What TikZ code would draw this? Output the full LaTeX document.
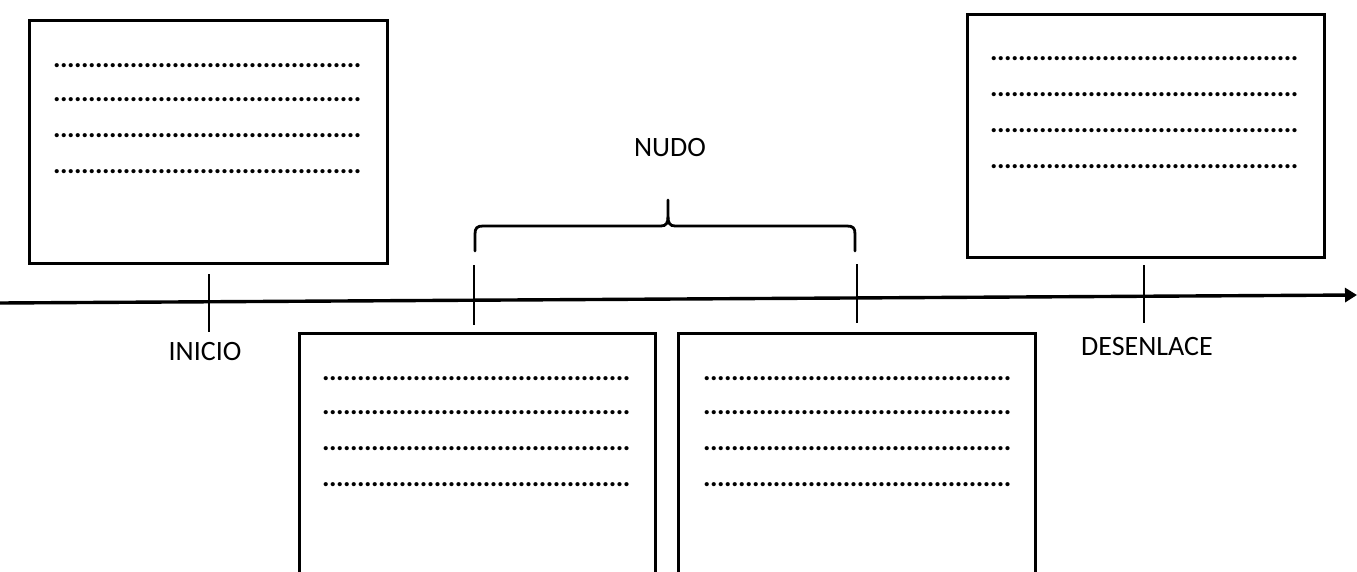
\documentclass[tikz,border=0pt]{standalone}
\usepackage{fontspec}
\setmainfont{Carlito}
\usetikzlibrary{arrows.meta}
\newcommand{\dotrow}{\hbox to 308pt{\xleaders\hbox to 6.85pt{\hss\textbf{.}\hss}\hfill}}
\tikzset{
  panel/.style={draw, line width=3pt, inner sep=0pt, anchor=north west},
  dots/.style={anchor=base west, inner sep=0pt, font=\fontsize{28pt}{30pt}\selectfont},
  lbl/.style={inner sep=0pt, font=\fontsize{28pt}{30pt}\selectfont},
  tick/.style={line width=2.4pt},
  axis/.style={line width=3.4pt, -{Triangle[length=12pt,width=14pt]}},
  bracepath/.style={line width=2.8pt, line cap=round}
}
\begin{document}
\begin{tikzpicture}[x=1pt,y=-1pt]
\useasboundingbox (0,0) rectangle (1357,572);
\clip (0,0) rectangle (1357,572);
% panels
\node[panel, minimum width=358pt, minimum height=243pt] (p1) at (28,19) {};
\node[panel, minimum width=357pt, minimum height=243pt] (p2) at (966,13) {};
\node[panel, minimum width=356pt, minimum height=300pt] (p3) at (298,332) {};
\node[panel, minimum width=357pt, minimum height=300pt] (p4) at (677,332) {};
% dotted rows
\foreach \i/\y in {1/67.5,2/101.5,3/137.5,4/173.5}{
  \node[dots] (p1r\i) at (53,\y) {\dotrow};
}
\foreach \i/\y in {1/60.5,2/96.5,3/132.5,4/168.5}{
  \node[dots] (p2r\i) at (990,\y) {\dotrow};
}
\foreach \i/\y in {1/380.5,2/414.5,3/450.5,4/486.5}{
  \node[dots] (p3r\i) at (322,\y) {\dotrow};
  \node[dots] (p4r\i) at (703,\y) {\dotrow};
}
% axis
\coordinate (a0) at (0,303);
\coordinate (a1) at (1357,295);
\draw[axis] (a0) -- (a1);
% ticks
\coordinate (t1a) at (209,274); \coordinate (t1b) at (209,332);
\coordinate (t2a) at (474,265); \coordinate (t2b) at (474,325);
\coordinate (t3a) at (857,264); \coordinate (t3b) at (857,323);
\coordinate (t4a) at (1144,265); \coordinate (t4b) at (1144,323);
\draw[tick] (t1a) -- (t1b);
\draw[tick] (t2a) -- (t2b);
\draw[tick] (t3a) -- (t3b);
\draw[tick] (t4a) -- (t4b);
% brace
\coordinate (bl) at (475,251);
\coordinate (br) at (855,251);
\coordinate (bt) at (668,200);
\draw[bracepath] (bl) -- (475,234) .. controls (475,228) and (477,226) .. (483,226)
  -- (661,226) .. controls (666,226) and (668,223) .. (668,217) -- (bt);
\draw[bracepath] (br) -- (855,234) .. controls (855,228) and (853,226) .. (847,226)
  -- (675,226) .. controls (670,226) and (668,223) .. (668,217);
% labels
\node[lbl] (nudo) at (670,148) {NUDO};
\node[lbl] (inicio) at (205,352) {INICIO};
\node[lbl] (desenlace) at (1147,347) {DESENLACE};
\end{tikzpicture}
\end{document}
